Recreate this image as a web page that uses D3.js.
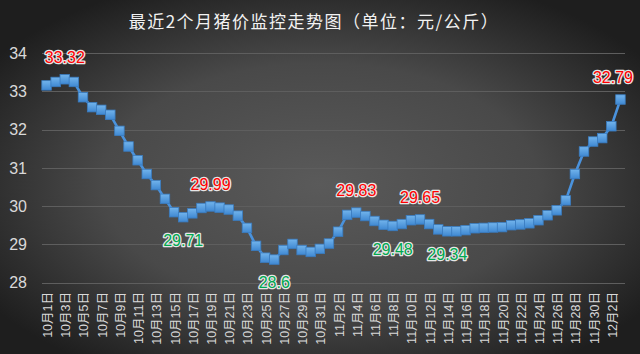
<!DOCTYPE html>
<html>
<head>
<meta charset="utf-8">
<script src="https://cdn.jsdelivr.net/npm/d3@7"></script>
<style>
  html, body { margin: 0; padding: 0; background: #2b2b2b; }
  svg { display: block; }
</style>
</head>
<body>
<div id="chart"></div>
<script>
// dates 10月1日 .. 12月3日 (64 days), one value per day
const months = [10, 11, 12];
const monthDays = [31, 30, 3];

const prices = [
  33.16, 33.25, 33.32, 33.25, 32.85, 32.59, 32.52, 32.39, 31.97, 31.56,
  31.20, 30.84, 30.55, 30.19, 29.84, 29.71, 29.81, 29.95, 29.99, 29.96,
  29.91, 29.75, 29.43, 28.96, 28.65, 28.60, 28.85, 29.01, 28.85, 28.80,
  28.88, 29.02, 29.33, 29.77, 29.83, 29.74, 29.61, 29.51, 29.48, 29.53,
  29.63, 29.65, 29.53, 29.39, 29.34, 29.34, 29.37, 29.42, 29.43, 29.44,
  29.45, 29.50, 29.52, 29.55, 29.63, 29.76, 29.89, 30.15, 30.84, 31.43,
  31.69, 31.78, 32.09, 32.79
];

// which points get a red label above / green label below
const highPoints = [2, 18, 34, 41, 63];
const lowPoints = [15, 25, 38, 44];

const yTicks = [28, 29, 30, 31, 32, 33, 34];
const title = "最近2个月猪价监控走势图（单位：元/公斤）";

const dates = [];
months.forEach((m, k) => {
  for (let d = 1; d <= monthDays[k]; d++) dates.push(m + "月" + d + "日");
});

const width = 640, height = 354;
const margin = {top: 53, right: 15, bottom: 71, left: 42};
const font = "'Liberation Sans', 'Noto Sans CJK SC', sans-serif";

const svg = d3.select("#chart").append("svg")
  .attr("width", width)
  .attr("height", height);

const defs = svg.append("defs");
const bg = defs.append("radialGradient")
  .attr("id", "bg").attr("cx", "50%").attr("cy", "52%").attr("r", "62%");
bg.append("stop").attr("offset", "0%").attr("stop-color", "#5a5a5a");
bg.append("stop").attr("offset", "55%").attr("stop-color", "#494949");
bg.append("stop").attr("offset", "100%").attr("stop-color", "#1e1e1e");

const mk = defs.append("linearGradient")
  .attr("id", "mk").attr("x1", 0).attr("y1", 0).attr("x2", 0).attr("y2", 1);
mk.append("stop").attr("offset", "0%").attr("stop-color", "#72b4ec");
mk.append("stop").attr("offset", "100%").attr("stop-color", "#3f88d2");

svg.append("rect")
  .attr("width", width).attr("height", height)
  .attr("fill", "url(#bg)");

// title
svg.append("text")
  .attr("x", 314).attr("y", 28)
  .attr("text-anchor", "middle")
  .style("font-family", "'Noto Sans CJK SC', sans-serif")
  .style("font-size", "17px")
  .style("letter-spacing", "1.5px")
  .style("fill", "#f2f2f2")
  .text(title);

const x = d3.scaleBand()
  .domain(d3.range(dates.length))
  .range([margin.left, width - margin.right]);

const y = d3.scaleLinear()
  .domain([28, 34])
  .range([height - margin.bottom - 0.5, margin.top + 0.3]);

const cx = i => x(i) + x.bandwidth() / 2;

// gridlines
svg.append("g")
  .selectAll("line")
  .data(yTicks)
  .join("line")
    .attr("x1", margin.left).attr("x2", width - margin.right)
    .attr("y1", d => Math.round(y(d)) + 0.5).attr("y2", d => Math.round(y(d)) + 0.5)
    .attr("stroke", "#5e5e5e")
    .attr("stroke-width", 1.2);

// y tick labels
svg.append("g")
  .selectAll("text")
  .data(yTicks)
  .join("text")
    .attr("x", 27).attr("y", d => y(d))
    .attr("dy", "0.36em")
    .attr("text-anchor", "end")
    .style("font-family", font)
    .style("font-size", "16px")
    .style("fill", "#d9d9d9")
    .text(d => d);

// x labels (every other day)
svg.append("g")
  .selectAll("text")
  .data(dates.map((d, i) => ({d, i})).filter(o => o.i % 2 === 0))
  .join("text")
    .attr("transform", o => `translate(${cx(o.i) + 1},292) rotate(-90)`)
    .attr("dy", "0.36em")
    .attr("text-anchor", "end")
    .style("font-family", font)
    .style("font-size", "12.5px")
    .style("fill", "#d9d9d9")
    .text(o => o.d);

// line
const line = d3.line()
  .x((d, i) => cx(i))
  .y(d => y(d));

svg.append("path")
  .datum(prices)
  .attr("d", line)
  .attr("fill", "none")
  .attr("stroke", "#4a92dc")
  .attr("stroke-width", 2.6)
  .attr("stroke-linejoin", "round");

// square markers
const ms = 9.5;
svg.append("g")
  .selectAll("rect")
  .data(prices)
  .join("rect")
    .attr("x", (d, i) => cx(i) - ms / 2)
    .attr("y", d => y(d) - ms / 2)
    .attr("width", ms).attr("height", ms)
    .attr("fill", "url(#mk)")
    .attr("stroke", "#3a7cc0")
    .attr("stroke-width", 0.8);

// value labels
function valueLabels(idx, dy, color) {
  svg.append("g")
    .selectAll("text")
    .data(idx)
    .join("text")
      .attr("x", i => Math.min(cx(i), width - 27))
      .attr("y", i => y(prices[i]) + dy)
      .attr("dy", "0.36em")
      .attr("text-anchor", "middle")
      .style("font-family", font)
      .style("font-size", "16px")
      .style("fill", color)
      .style("stroke", "#e6e6e6")
      .style("stroke-width", "2.6px")
      .style("stroke-linejoin", "round")
      .style("paint-order", "stroke")
      .text(i => String(prices[i]));
}
valueLabels(highPoints, -22, "#ff0000");
valueLabels(lowPoints, 23, "#00a850");
</script>
</body>
</html>
